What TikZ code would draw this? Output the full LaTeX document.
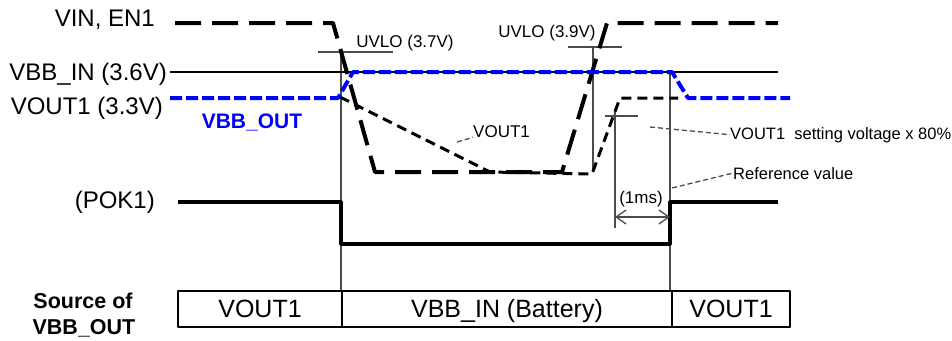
\documentclass[tikz,border=0pt]{standalone}
\usepackage{fontspec}
\setmainfont{Liberation Sans}
\usetikzlibrary{arrows.meta}
\definecolor{gline}{RGB}{75,75,75}
\definecolor{vblue}{RGB}{0,0,255}
\tikzset{
 lbl/.style={font=\fontsize{24}{28}\selectfont, inner sep=0pt},
 ann/.style={font=\fontsize{17}{20}\selectfont, inner sep=0pt},
 tbl/.style={font=\fontsize{25}{29}\selectfont, inner sep=0pt},
 gridline/.style={draw=gline, line width=2.6pt},
 tickline/.style={draw=gline, line width=1.4pt},
 vinline/.style={line width=4pt, dash pattern=on 26pt off 11pt},
 vbbinline/.style={line width=2.8pt},
 vbboutline/.style={draw=vblue, line width=4pt, dash pattern=on 12pt off 4pt},
 voutline/.style={line width=3pt, dash pattern=on 10pt off 6pt},
 pokline/.style={line width=3.2pt},
 leader/.style={draw=gline, line width=1.3pt, dash pattern=on 5pt off 3pt},
 barb/.tip={Straight Barb[length=10pt,width=14pt]},
}
\begin{document}
\begin{tikzpicture}[x=1pt,y=-1pt,line join=round]
\useasboundingbox (0,0) rectangle (952,340);

% grey timing verticals
\draw[gridline] (341,50) -- (341,291);
\draw[gridline] (593,47) -- (593,170);
\draw[gridline] (615,112) -- (615,228);
\draw[gridline] (670,72) -- (670,291);
% threshold ticks
\draw[tickline] (318,52) -- (393,52);
\draw[tickline] (568,47) -- (622,47);
\draw[tickline] (605,116) -- (638,116);

% VBB_IN
\draw[vbbinline] (170,72) -- (778,72);
% POK1
\draw[pokline] (178,202) -- (341,202) -- (341,244) -- (670,244) -- (670,202) -- (778,202);
% VOUT1
\draw[voutline] (340,97) -- (490,172) -- (592,174) -- (620,98) -- (678,98);
% VIN, EN1
\draw[vinline] (175,23) -- (333,23) -- (375,172) -- (562,172) -- (607,23) -- (778,23);
% VBB_OUT
\draw[vbboutline] (170,98) -- (338,98) -- (353,72) -- (672,72) -- (688,98) -- (790,98);

% 1 ms dimension
\coordinate (d1) at (615,217);
\coordinate (d2) at (670,217);
\draw[draw=gline, line width=1.3pt, barb-barb] (d1) -- (d2);
\node[ann, anchor=base] (ms) at (641,203) {(1ms)};

% left labels
\node[lbl, anchor=base east] (lvin) at (155,27) {VIN, EN1};
\node[lbl, anchor=base east] (lvbbin) at (167,80) {VBB\_IN (3.6V)};
\node[lbl, anchor=base east] (lvout) at (163,114) {VOUT1 (3.3V)};
\node[lbl, anchor=base east] (lpok) at (155,208) {(POK1)};
\node[font=\bfseries\fontsize{21}{24}\selectfont, text=vblue, inner sep=0pt, anchor=base] (lvbbout) at (252,128) {VBB\_OUT};

% annotations
\node[ann, anchor=base] (uv1) at (405,47) {UVLO (3.7V)};
\node[ann, anchor=base] (uv2) at (547,37) {UVLO (3.9V)};
\node[ann, anchor=base west] (vmid) at (473,137) {VOUT1};
\coordinate (vmidl) at (457,142);
\draw[leader] (vmidl) -- (vmid.south west);
\node[ann, anchor=base west, font=\fontsize{16.5}{20}\selectfont] (set) at (730,139) {VOUT1\ \ setting voltage x 80\%};
\coordinate (setl) at (650,127);
\draw[leader] (setl) -- (set.west);
\node[ann, anchor=base west, font=\fontsize{16.5}{20}\selectfont] (ref) at (733,179) {Reference value};
\coordinate (refl) at (672,188);
\draw[leader] (refl) -- (ref.west);

% source table
\draw[line width=1.3pt] (178,291) rectangle (790,327);
\draw[line width=1.3pt] (342,291) -- (342,327);
\draw[line width=1.3pt] (672,291) -- (672,327);
\draw[line width=2.2pt] (178,327) -- (790,327) -- (790,291);
\node[tbl, anchor=base] (t1) at (260,317) {VOUT1};
\node[tbl, anchor=base] (t2) at (507,317) {VBB\_IN (Battery)};
\node[tbl, anchor=base] (t3) at (731,317) {VOUT1};
\node[font=\bfseries\fontsize{21.5}{24}\selectfont, inner sep=0pt, anchor=base] (src1) at (83,308) {Source of};
\node[font=\bfseries\fontsize{21.5}{24}\selectfont, inner sep=0pt, anchor=base] (src2) at (84,334) {VBB\_OUT};
\end{tikzpicture}
\end{document}
